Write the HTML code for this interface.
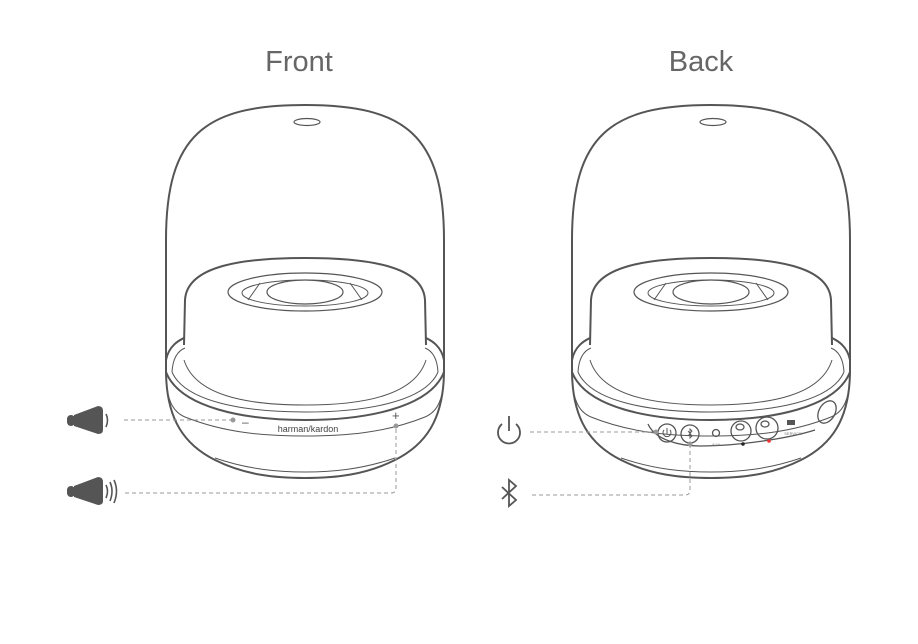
<!DOCTYPE html>
<html><head><meta charset="utf-8"><style>
html,body{margin:0;padding:0;background:#fff;}
svg{display:block}
</style></head><body>
<svg width="918" height="644" viewBox="0 0 918 644" xmlns="http://www.w3.org/2000/svg" font-family="Liberation Sans, sans-serif">
<text x="299" y="71" text-anchor="middle" font-size="29" fill="#666">Front</text>
<text x="701" y="71" text-anchor="middle" font-size="29" fill="#666">Back</text>

<defs>
<g id="spk" fill="none" stroke="#555">
  <path d="M-139 372 L-139 240 C-139 135 -100 105 0 105 C100 105 139 135 139 240 L139 372" stroke-width="2"/>
  <ellipse cx="2" cy="122" rx="13" ry="3.5" stroke-width="1.2"/>
  <path d="M-121 345 L-120 300 C-118 265 -60 258 0 258 C60 258 118 265 120 300 L121 345" stroke-width="2"/>
  <ellipse cx="0" cy="292" rx="77" ry="19" stroke-width="1.2"/>
  <ellipse cx="0" cy="293" rx="63" ry="13" stroke-width="1"/>
  <ellipse cx="0" cy="292" rx="38" ry="12" stroke-width="1.2"/>
  <path d="M-57 300 L-45 283 M57 300 L45 283" stroke-width="1"/>
  <path d="M-139 360 C-136 345 -125 340 -121 338 M139 360 C136 345 125 340 121 338" stroke-width="2"/>
  <path d="M-133 372 C-132 355 -125 350 -120 348 M133 372 C132 355 125 350 120 348" stroke-width="1"/>
  <path d="M-121 360 C-110 395 -60 405 0 405 C60 405 110 395 121 360" stroke-width="1"/>
  <path d="M-133 372 C-120 402 -60 412 0 412 C60 412 120 402 133 372" stroke-width="1"/>
  <path d="M-139 372 C-125 408 -60 420 0 420 C60 420 125 408 139 372" stroke-width="2"/>
  <path d="M-139 372 C-139 400 -132 412 -120 417 C-80 433 -40 436 0 436 C40 436 80 433 120 417 C132 412 139 400 139 372" stroke-width="1"/>
  <path d="M-139 370 C-139 420 -120 445 -90 460 C-60 475 -30 478 0 478 C30 478 60 475 90 460 C120 445 139 420 139 370" stroke-width="2"/>
  <path d="M-90 458 C-55 470 -25 472 0 472 C25 472 55 470 90 458" stroke-width="1"/>
</g>
</defs>
<use href="#spk" x="305" y="0"/>
<use href="#spk" x="711" y="0"/>

<text x="308" y="432" text-anchor="middle" font-size="9" fill="#444">harman/kardon</text>
<text x="242" y="426" font-size="12" fill="#555">–</text>
<text x="392" y="420" font-size="13" fill="#555">+</text>
<circle cx="233" cy="420" r="2.5" fill="#999"/>
<circle cx="396" cy="426" r="2.5" fill="#999"/>
<g stroke="#999" stroke-dasharray="4 3" fill="none" stroke-width="1">
  <path d="M124 420 L231 420"/>
  <path d="M396 429 L396 488 Q396 493 391 493 L124 493"/>
  <path d="M530 432 L656 432"/>
  <path d="M690 444 L690 490 Q690 495 685 495 L530 495"/>
</g>
<g fill="#555">
  <rect x="67" y="415" width="8" height="11" rx="4"/>
  <path d="M74 415 L98 406 Q103 406 103 411 L103 430 Q103 434 98 434 L74 426 Z"/>
  <rect x="67" y="486" width="8" height="11" rx="4"/>
  <path d="M74 486 L98 477 Q103 477 103 482 L103 501 Q103 505 98 505 L74 497 Z"/>
</g>
<g fill="none" stroke="#555" stroke-width="1.6">
  <path d="M106 414 Q109 420 106 427"/>
  <path d="M106 485 Q109 491 106 498"/>
  <path d="M110 482 Q114 491 110 501"/>
  <path d="M114 480 Q119 491 114 503"/>
</g>
<g fill="none" stroke="#555" stroke-width="1.8">
  <path d="M502 424 A11 11 0 1 0 516 424"/>
  <path d="M509 416 L509 431"/>
  <path d="M502 487 L516 500 L509 506 L509 480 L516 486 L502 499"/>
</g>
<g fill="none" stroke="#555" stroke-width="1.3">
  <path d="M648 424 C655 440 680 446 700 446 C740 446 790 438 815 430"/>
  <circle cx="667" cy="433" r="9"/>
  <circle cx="690" cy="434" r="9"/>
  <circle cx="716" cy="433" r="3.5"/>
  <circle cx="741" cy="431" r="10"/>
  <circle cx="767" cy="428" r="11"/>
  <ellipse cx="740" cy="427" rx="4" ry="3"/>
  <ellipse cx="765" cy="424" rx="4" ry="3"/>
  <ellipse cx="827" cy="412" rx="8" ry="12" transform="rotate(30 827 412)"/>
  <path d="M664 430 A4 4 0 1 0 670 430 M667 428 L667 434" stroke-width="1"/>
  <path d="M688 431 L692 436 L690 438 L690 429 L692 431 L688 436" stroke-width="0.9"/>
</g>
<rect x="787" y="420" width="8" height="5" fill="#555"/>
<circle cx="743" cy="444" r="1.8" fill="#222"/>
<circle cx="769" cy="441" r="1.8" fill="#e33"/>
<circle cx="656" cy="432" r="2.5" fill="#999"/>
<circle cx="690" cy="444" r="2.5" fill="#999"/>
<text x="716" y="446" text-anchor="middle" font-size="4" fill="#777">AUX</text>
<text x="793" y="435" text-anchor="middle" font-size="4" fill="#777">SERVICE</text>
</svg>
</body></html>
